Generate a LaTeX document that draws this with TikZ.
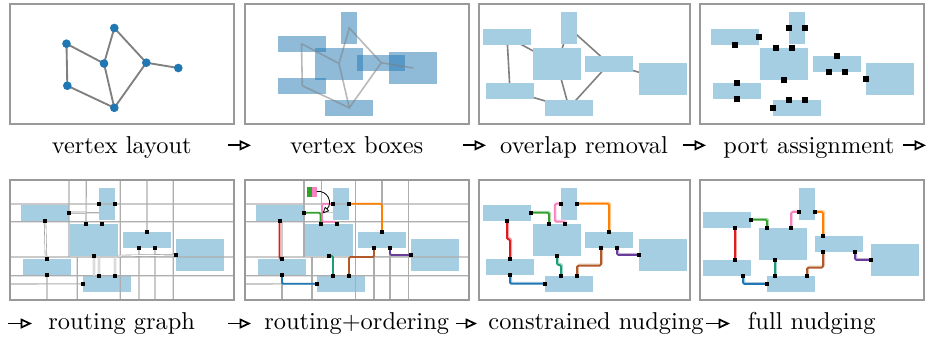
\documentclass[tikz,border=0pt]{standalone}
\usetikzlibrary{arrows.meta,calc}
\definecolor{vblue}{HTML}{1F77B4}
\definecolor{lblue}{HTML}{A6CEE3}
\definecolor{cred}{HTML}{E31A1C}
\definecolor{cblue}{HTML}{1F78B4}
\definecolor{cgreen}{HTML}{33A02C}
\definecolor{cpink}{HTML}{F781BF}
\definecolor{corange}{HTML}{FF7F00}
\definecolor{cteal}{HTML}{1B9E77}
\definecolor{cbrown}{HTML}{B15928}
\definecolor{cpurple}{HTML}{6A3D9A}
\pgfdeclarelayer{back}\pgfdeclarelayer{bg}\pgfdeclarelayer{mid}\pgfsetlayers{back,bg,mid,main}
\newcommand\stdports[2]{%
 \node[#2] (p#1a1) at (b#1A.east) {};
 \node[#2] (p#1a2) at (b#1A.south) {};
 \node[#2] (p#1b1) at (b#1B.west) {};
 \node[#2] (p#1b2) at (b#1B.east) {};
 \node[#2,xshift=-6pt] (p#1c1) at (b#1C.north) {};
 \node[#2,xshift=6pt] (p#1c2) at (b#1C.north) {};
 \node[#2] (p#1c3) at (b#1C.south) {};
 \node[#2] (p#1d1) at (b#1D.north) {};
 \node[#2,xshift=-6pt] (p#1d2) at (b#1D.south) {};
 \node[#2,xshift=6pt] (p#1d3) at (b#1D.south) {};
 \node[#2] (p#1e1) at (b#1E.west) {};
 \node[#2] (p#1f1) at (b#1F.north) {};
 \node[#2] (p#1f2) at (b#1F.south) {};
 \node[#2,xshift=-6pt] (p#1g1) at (b#1G.north) {};
 \node[#2,xshift=6pt] (p#1g2) at (b#1G.north) {};
 \node[#2] (p#1g3) at (b#1G.west) {};}
\newcommand\boxset[9]{% #1 panel, #2 style, #3..#9 centres A..G
 \node[#2,wide] (b#1A) at #3 {};
 \node[#2,tall] (b#1B) at #4 {};
 \node[#2,big]  (b#1C) at #5 {};
 \node[#2,wide] (b#1D) at #6 {};
 \node[#2,big]  (b#1E) at #7 {};
 \node[#2,wide] (b#1F) at #8 {};
 \node[#2,wide] (b#1G) at #9 {};}
\newcommand\ghroute[2]{%
 \draw[route,#1!40,transform canvas={shift={(0.8pt,0.8pt)}}] #2;
 \draw[route,#1] #2;}
\begin{document}
\begin{tikzpicture}[x=0.75pt,y=-0.75pt,
  frame/.style={draw=black!40,line width=0.8pt},
  vtx/.style={circle,fill=vblue,inner sep=0pt,minimum size=6.5pt},
  gedge/.style={draw=black!50,line width=1.4pt},
  gedgefaint/.style={draw=black!50,draw opacity=0.55,line width=1.2pt},
  wide/.style={minimum width=36pt,minimum height=12pt},
  tall/.style={minimum width=12pt,minimum height=24pt},
  big/.style={minimum width=36pt,minimum height=24pt},
  tbox/.style={fill=vblue,fill opacity=0.5,inner sep=0pt,outer sep=0pt},
  lbox/.style={fill=lblue,inner sep=0pt,outer sep=0pt},
  prtA/.style={fill=black,inner sep=0pt,minimum size=4.7pt},
  prt/.style={fill=black,inner sep=0pt,minimum size=3pt},
  gridl/.style={draw=black!32,line width=0.85pt},
  gridd/.style={draw=black!40,line width=0.45pt,double=white,double distance=0.8pt},
  faint/.style={draw=black!20,line width=0.9pt},
  route/.style={line width=1.4pt,rounded corners=1pt},
  captext/.style={font=\fontsize{10}{12}\selectfont,scale=1.83,anchor=base,inner sep=0pt},
  caparrow/.style={line width=1.3pt,-{Triangle[open,length=8.5pt,width=7.5pt]}}
]
\useasboundingbox (0,0) rectangle (930,337);

% ---------- frames ----------
\draw[frame] (10,4) rectangle (234,124);
\draw[frame] (245,4) rectangle (469,124);
\draw[frame] (479,4) rectangle (690,124);
\draw[frame] (700,4) rectangle (924,124);
\draw[frame] (10,180) rectangle (234,300);
\draw[frame] (245,180) rectangle (469,300);
\draw[frame] (479,180) rectangle (690,300);
\draw[frame] (700,180) rectangle (924,300);

% ---------- panel 1: vertex layout ----------
\node[vtx] (v1A) at (66.5,43.7) {};
\node[vtx] (v1B) at (114.3,28) {};
\node[vtx] (v1C) at (104,63.5) {};
\node[vtx] (v1D) at (146.3,62.7) {};
\node[vtx] (v1E) at (178.3,68) {};
\node[vtx] (v1F) at (67.3,85.7) {};
\node[vtx] (v1G) at (114.3,107.8) {};
\begin{pgfonlayer}{bg}
\draw[gedge] (v1A.center)--(v1C.center) (v1A.center)--(v1F.center) (v1C.center)--(v1B.center)
  (v1B.center)--(v1D.center) (v1D.center)--(v1E.center) (v1C.center)--(v1G.center)
  (v1F.center)--(v1G.center) (v1G.center)--(v1D.center);
\end{pgfonlayer}

% ---------- panel 2: vertex boxes ----------
\boxset{2}{tbox}{(301.5,43.7)}{(349.3,28)}{(339,63.5)}{(381.3,62.7)}{(413.3,68)}{(302.3,85.7)}{(349.3,107.8)}
\draw[gedgefaint] (b2A.center)--(b2C.center) (b2A.center)--(b2F.center)
  (b2C.center)--(b2B.center)--(b2D.center)--(b2E.center)
  (b2C.center)--(b2G.center)--(b2F.center) (b2G.center)--(b2D.center);

% ---------- panel 3: overlap removal ----------
\begin{pgfonlayer}{bg}
\boxset{3}{lbox}{(507,36.8)}{(569,27.8)}{(557,63.8)}{(609,63.8)}{(663,79)}{(510,90.8)}{(569,107.8)}
\end{pgfonlayer}
\begin{pgfonlayer}{back}
\draw[draw=black!50,line width=1.2pt] (b3A.center)--(b3C.center) (b3A.center)--(b3F.center)
  (b3C.center)--(b3B.center)--(b3D.center)--(b3E.center)
  (b3C.center)--(b3G.center)--(b3F.center) (b3G.center)--(b3D.center);
\end{pgfonlayer}

% ---------- panel 4: port assignment ----------
\begin{pgfonlayer}{bg}
\boxset{4}{lbox}{(735,36.8)}{(797,27.8)}{(784,63.8)}{(837,63.8)}{(890,79)}{(737,90.8)}{(797,107.8)}
\end{pgfonlayer}
\stdports{4}{prtA}

% ---------- panel 5: routing graph ----------
\begin{pgfonlayer}{bg}
\boxset{5}{lbox}{(45,212.8)}{(107,203.8)}{(94,239.8)}{(147,239.8)}{(200,255)}{(47,266.8)}{(107,283.8)}
\end{pgfonlayer}
\stdports{5}{prt}
\begin{pgfonlayer}{mid}
\draw[gridl] (10,204)--(234,204) (10,221.7)--(234,221.7) (10,257)--(234,257)
  (10,275.8)--(234,275.8) (10,284)--(b5G.west);
\draw[gridl] (69,180)--(69,257) (77.3,257)--(77.3,300) (86.3,180)--(p5c1.center)
  (120.3,180)--(120.3,300) (147,180)--(p5d1.center) (173.3,180)--(173.3,300)
  (p5f2.center)--(47,300) (p5d2.center)--(139,300) (p5d3.center)--(155,300)
  (p5a1.center)--(99,212.8);
\draw[gridd] (p5a2.center)--(46,258) (p5a1.center)--(86.3,212.8)
  (p5c3.center)--(94,275.8) (99,257)--(99,275.8) (115,257)--(115,275.8)
  (118.3,256)--(p5e1.center);
\end{pgfonlayer}

% ---------- panel 6: routing+ordering ----------
\begin{pgfonlayer}{bg}
\boxset{6}{lbox}{(279.5,212.8)}{(341,203.8)}{(328.5,239.8)}{(382,239.8)}{(435,255)}{(282,266.8)}{(341,283.8)}
\end{pgfonlayer}
\stdports{6}{prt}
\begin{pgfonlayer}{mid}
\draw[faint] (282,221.7)--(282,258.8) (303.5,212.8)--(333,212.8) (353,256.5)--(411,256.5);
\draw[gridl] (245,204)--(469,204) (245,221.7)--(469,221.7) (245,257)--(469,257)
  (245,275.8)--(469,275.8) (245,284)--(b6G.west);
\draw[gridl] (282,275.8)--(282,300) (304,180)--(304,257) (312,257)--(312,300)
  (321.3,180)--(321.3,204) (355.3,180)--(355.3,300) (374,247.8)--(374,300)
  (382,180)--(382,204) (390,247.8)--(390,300) (408.3,180)--(408.3,300);
\draw[route,cred] (p6a2.center)--(p6a2.center |- p6f1.center)--(p6f1.center);
\draw[route,cblue] (p6f2.center) |- (p6g3.center);
\draw[route,cpink] (p6b1.center)--(322,203.8)--(322,221.7) -| (p6c2.center);
\draw[route,cgreen] (p6a1.center) -| (p6c1.center);
\draw[route,corange] (p6b2.center) -| (p6d1.center);
\draw[route,cteal] (p6c3.center) -| (p6g1.center);
\draw[route,cbrown] (p6d2.center)--(374,257) -| (p6g2.center);
\draw[route,cpurple] (p6d3.center) |- (p6e1.center);
\end{pgfonlayer}
\fill[cgreen] (307.3,186.7) rectangle (312,196.7);
\fill[cpink] (312,186.7) rectangle (316.7,196.7);
\coordinate (swE) at (316.7,191.5);
\coordinate (swT) at (322.5,213.5);
\draw[line width=0.6pt,-{Triangle[open,length=5pt,width=4.5pt]}] (swE) .. controls (328,190) and (333,203) .. (swT);

% ---------- panel 7: constrained nudging ----------
\begin{pgfonlayer}{bg}
\boxset{7}{lbox}{(507,212.8)}{(569,203.8)}{(557,239.8)}{(609,239.8)}{(663,255)}{(510,266.8)}{(569,283.8)}
\end{pgfonlayer}
\stdports{7}{prt}
\begin{pgfonlayer}{mid}
\ghroute{cred}{(p7a2.center)--(507,239.3) -| (p7f1.center)}
\ghroute{cblue}{(p7f2.center) |- (p7g3.center)}
\ghroute{cgreen}{(p7a1.center) -| (p7c1.center)}
\ghroute{cpink}{(p7b1.center)--(554.7,203.8)--(554.7,221.7) -| (p7c2.center)}
\ghroute{corange}{(p7b2.center) -| (p7d1.center)}
\ghroute{cteal}{(p7c3.center)--(557,265) -| (p7g1.center)}
\ghroute{cbrown}{(p7d2.center)--(601,265.7) -| (p7g2.center)}
\ghroute{cpurple}{(p7d3.center) |- (p7e1.center)}
\end{pgfonlayer}

% ---------- panel 8: full nudging ----------
\begin{pgfonlayer}{bg}
\boxset{8}{lbox}{(727,219.8)}{(807,204)}{(783,244)}{(839,244)}{(895,260)}{(727,268)}{(791,284)}
\end{pgfonlayer}
\node[prt] (p8a1) at (b8A.east) {};
\node[prt,xshift=6pt] (p8a2) at (b8A.south) {};
\node[prt,yshift=-6pt] (p8b1) at (b8B.west) {};
\node[prt,yshift=-6pt] (p8b2) at (b8B.east) {};
\node[prt,xshift=-12pt] (p8c1) at (b8C.north) {};
\node[prt,xshift=6pt] (p8c2) at (b8C.north) {};
\node[prt,xshift=-6pt] (p8c3) at (b8C.south) {};
\node[prt,xshift=-12pt] (p8d1) at (b8D.north) {};
\node[prt,xshift=-12pt] (p8d2) at (b8D.south) {};
\node[prt,xshift=12pt] (p8d3) at (b8D.south) {};
\node[prt] (p8e1) at (b8E.west) {};
\node[prt,xshift=6pt] (p8f1) at (b8F.north) {};
\node[prt,xshift=12pt] (p8f2) at (b8F.south) {};
\node[prt,xshift=-12pt] (p8g1) at (b8G.north) {};
\node[prt,xshift=12pt] (p8g2) at (b8G.north) {};
\node[prt] (p8g3) at (b8G.west) {};
\begin{pgfonlayer}{mid}
\ghroute{cred}{(p8a2.center)--(p8f1.center)}
\ghroute{cblue}{(p8f2.center) |- (p8g3.center)}
\ghroute{cgreen}{(p8a1.center) -| (p8c1.center)}
\ghroute{cpink}{(p8b1.center) -| (p8c2.center)}
\ghroute{corange}{(p8b2.center) -| (p8d1.center)}
\ghroute{cteal}{(p8c3.center)--(p8g1.center)}
\ghroute{cbrown}{(p8d2.center)--(823,267.7) -| (p8g2.center)}
\ghroute{cpurple}{(p8d3.center) |- (p8e1.center)}
\end{pgfonlayer}

% ---------- captions ----------
\node[captext] (t1) at (121.7,153.3) {vertex layout};
\node[captext] (t2) at (356.7,153.3) {vertex boxes};
\node[captext] (t3) at (584,153.3) {overlap removal};
\node[captext] (t4) at (809,153.3) {port assignment};
\node[captext] (t5) at (121.7,329) {routing graph};
\node[captext] (t6) at (356.7,329) {routing+ordering};
\node[captext] (t7) at (596,329) {constrained nudging};
\node[captext] (t8) at (811.7,329) {full nudging};
\draw[caparrow] (228,145.3)--(251,145.3);
\draw[caparrow] (463,145.3)--(486,145.3);
\draw[caparrow] (683,145.3)--(706,145.3);
\draw[caparrow] (903,145.3)--(926,145.3);
\draw[caparrow] (8,323.5)--(32,323.5);
\draw[caparrow] (228,323.5)--(251,323.5);
\draw[caparrow] (455.5,323.5)--(477,323.5);
\draw[caparrow] (706,323.5)--(730,323.5);
\end{tikzpicture}
\end{document}
